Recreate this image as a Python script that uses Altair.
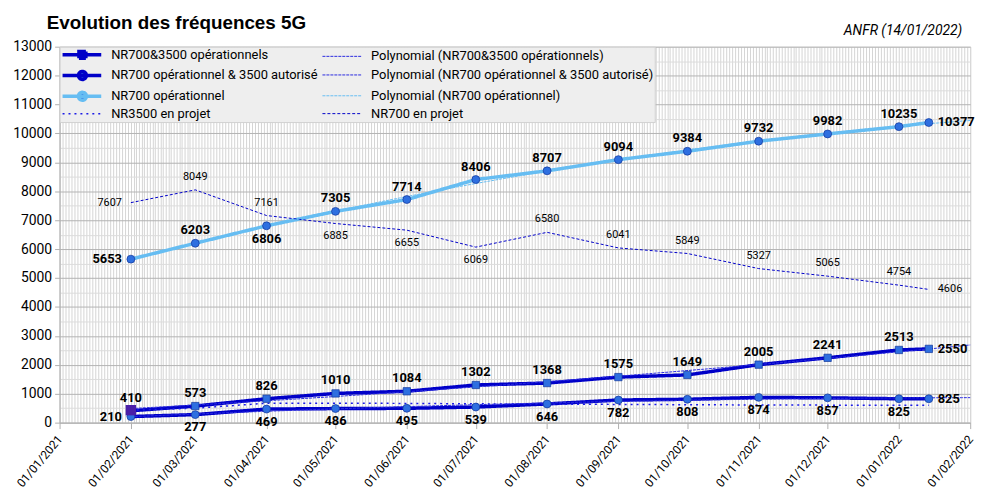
import altair as alt
import pandas as pd

# ---------------- data ----------------
dates = ["2021-02-01", "2021-03-01", "2021-04-01", "2021-05-01", "2021-06-01",
         "2021-07-01", "2021-08-01", "2021-09-01", "2021-10-01", "2021-11-01",
         "2021-12-01", "2022-01-01", "2022-01-14"]

S1 = "NR700&3500 opérationnels"
S2 = "NR700 opérationnel & 3500 autorisé"
S3 = "NR700 opérationnel"
S4 = "NR3500 en projet"
S5 = "NR700 en projet"

nr700_3500_op = [410, 573, 826, 1010, 1084, 1302, 1368, 1575, 1649, 2005, 2241, 2513, 2550]
nr700_op_3500_aut = [210, 277, 469, 486, 495, 539, 646, 782, 808, 874, 857, 825, 825]
nr700_op = [5653, 6203, 6806, 7305, 7714, 8406, 8707, 9094, 9384, 9732, 9982, 10235, 10377]
nr3500_projet = [430, 500, 670, 670, 665, 650, 640, 630, 620, 610, 605, 600, 600]
nr700_projet = [7607, 8049, 7161, 6885, 6655, 6069, 6580, 6041, 5849, 5327, 5065, 4754, 4606]

# label placement (style) per point
pos_s1 = ["above"] * 12 + ["right"]
pos_s2 = ["left"] + ["below"] * 11 + ["right"]
pos_s3 = ["left", "above", "below"] + ["above"] * 9 + ["right"]
pos_s4 = ["none"] * 13
pos_s5 = ["left", "above", "above", "below", "below", "below", "above",
          "above", "above", "above", "above", "above", "right"]

start = pd.Timestamp("2021-01-01")
end = pd.Timestamp("2022-02-01")

rows = []
for name, vals, pos, sty in [(S1, nr700_3500_op, pos_s1, "bold"),
                             (S2, nr700_op_3500_aut, pos_s2, "bold"),
                             (S3, nr700_op, pos_s3, "bold"),
                             (S4, nr3500_projet, pos_s4, "none"),
                             (S5, nr700_projet, pos_s5, "normal")]:
    for d, v, p in zip(dates, vals, pos):
        rows.append({"date": d, "series": name, "value": v, "pos": p, "style": sty,
                     "day": (pd.Timestamp(d) - start).days})
df = pd.DataFrame(rows)

P1, P2, P3 = (f"Polynomial ({s})" for s in (S1, S2, S3))
# legend fills column by column (2 columns x 4 rows)
domain = [S1, S2, S3, S4, P1, P2, P3, S5]
colors = ["#0000c8", "#0000c8", "#66bdf2", "#1c1ce6", "#2a2ae0", "#2a2ae0", "#66bdf2", "#0000c8"]
dashes = [[1, 0], [1, 0], [1, 0], [2, 4], [3, 1], [3, 1], [3, 1], [3, 2]]
widths = [3.5, 3.5, 3.5, 1.5, 1, 1, 1, 1]

def ms(ts):
    return int(ts.value // 10**6)

# minor vertical grid values (24 per month)
months = pd.date_range(start, end, freq="MS")
grid_vals = []
for a, b in zip(months[:-1], months[1:]):
    for k in range(24):
        grid_vals.append(ms(a + (b - a) * k / 24))
grid_vals.append(ms(months[-1]))

FONT = "Roboto"
month_test = "utcdate(datum.value) == 1 && utchours(datum.value) == 0 && utcminutes(datum.value) == 0"

x_axis = alt.Axis(values=grid_vals, title=None,
                  labelExpr=f"({month_test}) ? utcFormat(datum.value, '%d/%m/%Y') : ''",
                  labelAngle=-50, labelAlign="right", labelBaseline="middle",
                  labelPadding=8, labelFont=FONT, labelFontSize=12, labelColor="#000",
                  labelOverlap=False, labelBound=False, labelFlush=False,
                  tickOpacity={"condition": {"test": month_test, "value": 1}, "value": 0},
                  tickColor="#b0b0b0", tickSize=6,
                  gridColor="#d4d4d4", gridWidth=1, domainColor="#b0b0b0")
x_scale = alt.Scale(type="utc", domain=[ms(start), ms(end)], nice=False)

y_axis = alt.Axis(values=list(range(0, 13001, 500)), title=None, format="d",
                  labelExpr="datum.value % 1000 === 0 ? datum.label : ''",
                  labelFont=FONT, labelFontSize=14, labelColor="#000", labelPadding=3,
                  labelOverlap=False,
                  gridColor={"condition": {"test": "datum.value % 1000 === 0", "value": "#b3b3b3"},
                             "value": "#dcdcdc"},
                  tickOpacity={"condition": {"test": "datum.value % 1000 === 0", "value": 1}, "value": 0},
                  tickColor="#b0b0b0", tickSize=5, domainColor="#b0b0b0")
y_scale = alt.Scale(domain=[0, 13000], nice=False)

X = alt.X("date:T", scale=x_scale, axis=x_axis)
Y = alt.Y("value:Q", scale=y_scale, axis=y_axis)

# legend symbol shapes (custom paths), unit = 5 px
LINE = "M-1,0H6.8"
SQ = "M-1,0H6.8M2.3,-0.7H3.7V0.7H2.3Z"
CI = "M-1,0H6.8M3.8,0A0.8,0.8,0,1,1,2.2,0A0.8,0.8,0,1,1,3.8,0Z"
shape_sig = (f"datum.value === '{S1}' ? '{SQ}' : "
             f"(datum.value === '{S2}' || datum.value === '{S3}') ? '{CI}' : '{LINE}'")
fill_sig = (f"(datum.value === '{S1}' || datum.value === '{S2}' || datum.value === '{S3}') "
            f"? '#2e6fe0' : 'transparent'")

legend = alt.Legend(title=None, orient="none", legendX=0, legendY=0, columns=2,
                    fillColor="#eeeeee", strokeColor="#d0d0d0", padding=1,
                    labelFont=FONT, labelFontSize=13, labelColor="#000", labelLimit=600,
                    labelOffset=37, symbolSize=100, rowPadding=-1, columnPadding=2,
                    symbolType=alt.ExprRef(expr=shape_sig),
                    symbolFillColor=alt.ExprRef(expr=fill_sig))

color = alt.Color("series:N", scale=alt.Scale(domain=domain, range=colors), legend=legend)
dash = alt.StrokeDash("series:N", scale=alt.Scale(domain=domain, range=dashes), legend=legend)
width = alt.StrokeWidth("series:N",
                        scale=alt.Scale(type="ordinal", domain=domain, range=widths),
                        legend=legend)

base = alt.Chart(df)

lines = base.mark_line().encode(x=X, y=Y, color=color, strokeDash=dash, strokeWidth=width,
                                order="date:T")

poly = (base.transform_filter(alt.FieldOneOfPredicate(field="series", oneOf=[S1, S2, S3]))
        .transform_regression("day", "value", method="poly", order=2, groupby=["series"],
                              extent=[31, 396])
        .transform_calculate(series="'Polynomial (' + datum.series + ')'",
                             date=f"datum.day * 86400000 + {ms(start)}")
        .mark_line()
        .encode(x=X, y=Y, color=color, strokeDash=dash, strokeWidth=width))

squares = (base.transform_filter(alt.FieldEqualPredicate(field="series", equal=S1))
           .mark_point(shape="square", filled=True, size=55, color="#2e6fe0",
                       stroke="#12359a", strokeWidth=0.7, opacity=1)
           .encode(x=X, y=Y))
circles = (base.transform_filter(alt.FieldOneOfPredicate(field="series", oneOf=[S2, S3]))
           .mark_point(shape="circle", filled=True, size=64, color="#2e6fe0",
                       stroke="#12359a", strokeWidth=0.7, opacity=1)
           .encode(x=X, y=Y))
cube = (base.transform_filter(alt.FieldEqualPredicate(field="series", equal=S4))
        .transform_filter(alt.FieldEqualPredicate(field="day", equal=31))
        .mark_point(shape="square", filled=True, size=110, color="#4a1fa8", opacity=1)
        .encode(x=X, y=Y))

offsets = {"above": dict(dy=-13, align="center"),
           "below": dict(dy=13, align="center"),
           "left": dict(dx=-9, align="right"),
           "right": dict(dx=9, align="left")}
labels = []
for sty, fw, fs in [("bold", "bold", 13), ("normal", "normal", 11)]:
    for p, kw in offsets.items():
        labels.append(
            base.transform_filter(alt.FieldEqualPredicate(field="style", equal=sty))
            .transform_filter(alt.FieldEqualPredicate(field="pos", equal=p))
            .mark_text(font=FONT, fontSize=fs, fontWeight=fw, color="#000",
                       baseline="middle", **kw)
            .encode(x=X, y=Y, text=alt.Text("value:Q", format="d")))

title = (alt.Chart(pd.DataFrame({"t": ["Evolution des fréquences 5G"]}))
         .mark_text(font="Liberation Sans", fontSize=19, fontWeight="bold", color="#000",
                    align="left", baseline="alphabetic")
         .encode(x=alt.value(-13), y=alt.value(-18), text="t:N"))
note = (alt.Chart(pd.DataFrame({"t": ["ANFR (14/01/2022)"]}))
        .mark_text(font=FONT, fontSize=14, fontStyle="italic", color="#000",
                   align="right", baseline="alphabetic")
        .encode(x=alt.value(910), y=alt.value(-12), text="t:N"))

chart = (alt.layer(lines, poly, squares, circles, cube, *labels, title, note)
         .properties(width=918, height=379,
                     padding={"left": 52, "top": 37, "right": 25, "bottom": 75},
                     autosize=alt.AutoSizeParams(type="none"))
         .configure_view(stroke="#b0b0b0", strokeWidth=1)
         .configure(background="white"))

chart.save("out.html", embed_options={"renderer": "svg", "actions": False})
